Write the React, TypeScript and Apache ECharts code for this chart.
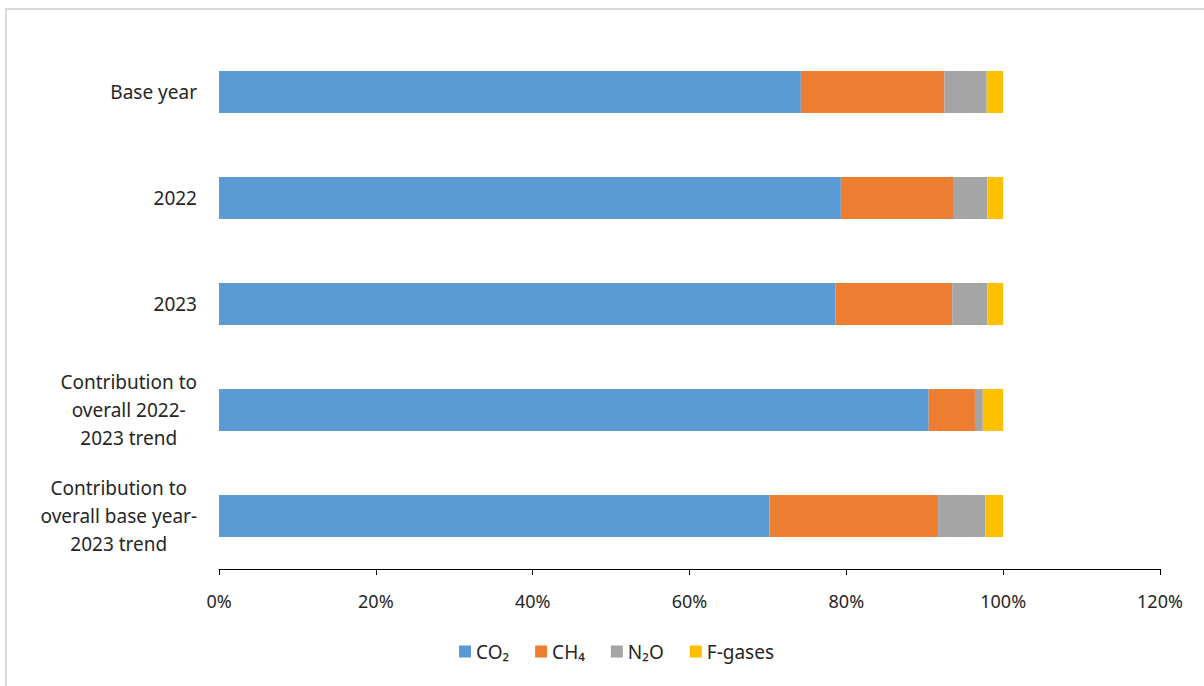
import React, { useEffect, useRef } from "react";
import * as echarts from "echarts";

const categories = [
  "Base year",
  "2022",
  "2023",
  "Contribution to\noverall 2022-\n2023 trend",
  "Contribution to\noverall base year-\n2023 trend",
];
const co2 = [74.2, 79.3, 78.6, 90.5, 70.2];
const ch4 = [18.3, 14.3, 14.9, 5.9, 21.5];
const n2o = [5.4, 4.4, 4.5, 1.0, 6.0];
const fgases = [2.1, 2.0, 2.0, 2.6, 2.3];
const seriesNames = ["CO₂", "CH₄", "N₂O", "F-gases"];
const colors = ["#5B9BD5", "#ED7D31", "#A5A5A5", "#FFC000"];

const FONT = "Noto Sans";
const TEXT = "#262626";

export default function App() {
  const ref = useRef<HTMLDivElement>(null);
  useEffect(() => {
    const chart = echarts.init(ref.current!, null, { renderer: "svg" });
    const values = [co2, ch4, n2o, fgases];
    chart.setOption({
      animation: false,
      backgroundColor: "#ffffff",
      graphic: [
        {
          type: "rect",
          shape: { x: 6, y: 9, width: 1400, height: 900 },
          style: { fill: "none", stroke: "#d9d9d9", lineWidth: 2 },
          silent: true,
        },
      ],
      legend: {
        data: seriesNames,
        bottom: 20,
        left: 454,
        itemWidth: 12,
        itemHeight: 12,
        itemGap: 26,
        icon: "rect",
        textStyle: { fontFamily: FONT, fontSize: 19, color: TEXT },
      },
      grid: { left: 219, right: 44, top: 39, bottom: 117 },
      xAxis: {
        type: "value",
        min: 0,
        max: 120,
        interval: 20,
        axisLine: { show: true, lineStyle: { color: "#000", width: 1 } },
        axisTick: { show: true, length: 6, lineStyle: { color: "#000" } },
        splitLine: { show: false },
        axisLabel: {
          formatter: "{value}%",
          fontFamily: FONT,
          fontSize: 18,
          color: TEXT,
          margin: 23,
        },
      },
      yAxis: {
        type: "category",
        inverse: true,
        data: categories,
        axisLine: { show: false },
        axisTick: { show: false },
        axisLabel: {
          fontFamily: FONT,
          fontSize: 19,
          color: TEXT,
          margin: 22,
          align: "right",
          lineHeight: 28,
          formatter: (v: string) =>
            v.indexOf("\n") >= 0
              ? v
                  .split("\n")
                  .map((l) => "{c|" + l + "}")
                  .join("\n")
              : v,
          rich: {
            c: {
              align: "center",
              fontFamily: FONT,
              fontSize: 19,
              color: TEXT,
              lineHeight: 28,
            },
          },
        },
      },
      series: seriesNames.map((name, i) => ({
        name,
        type: "bar",
        stack: "total",
        barWidth: 42,
        itemStyle: { color: colors[i] },
        data: values[i],
      })),
    });
    return () => chart.dispose();
  }, []);
  return (
    <div
      ref={ref}
      style={{ position: "fixed", left: 0, top: 0, width: 1204, height: 686 }}
    />
  );
}
